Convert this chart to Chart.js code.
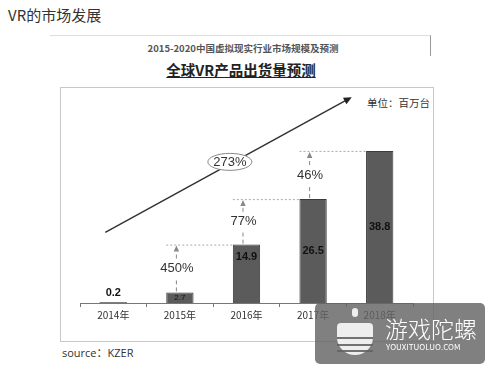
<!DOCTYPE html>
<html>
<head>
<meta charset="utf-8">
<script src="https://cdn.jsdelivr.net/npm/chart.js@4"></script>
<style>
  body { margin: 0; background: #fff; width: 500px; height: 375px; position: relative; overflow: hidden;
         font-family: "Noto Sans CJK SC", "Liberation Sans", sans-serif; color: #333; }
  .abs { position: absolute; }
  #head { left: 8px; top: 4px; font-size: 15px; color: #333; }
  #frame { left: 50px; top: 35px; width: 380px; height: 20px; border-top: 1px solid #ddd; border-right: 1px solid #999; }
  #sub { left: 50px; top: 42px; width: 386px; text-align: center; font-size: 9.5px; font-weight: bold; color: #555; line-height: 12px; }
  #title { left: 50px; top: 60px; width: 382px; text-align: center; font-size: 14.5px; font-weight: bold; color: #222;
           text-decoration: underline; line-height: 20px; }
  #box { left: 60px; top: 87px; width: 372px; height: 253px; border: 1px solid #c8c8c8; }
  #unit { left: 360px; top: 95px; width: 70px; text-align: right; font-size: 10.5px; color: #333; }
  #source { left: 62px; top: 344px; font-size: 11px; color: #333; font-family: "Open Sans", "Noto Sans CJK SC", sans-serif; }
  #wm { left: 315px; top: 303px; width: 170px; height: 61px; border-radius: 5px; background: rgba(100,100,100,0.82); z-index: 5; }
  #wm .cn { position: absolute; left: 70px; top: 8px; font-size: 23px; color: #fff; font-weight: 300; }
  #wm .en { position: absolute; left: 71px; top: 38px; font-size: 8px; color: #fff; }
  #wm .logo { position: absolute; left: 22px; top: 20px; width: 36px; height: 32px; border-radius: 4px 4px 18px 18px; background: #eee; }
  #wm .stripe { position: absolute; left: 22px; width: 36px; height: 2px; background: rgba(100,100,100,0.9); }
  #wm .pin { position: absolute; left: 37px; top: 5px; width: 6px; height: 9px; border-radius: 3px; background: #eee; }
  canvas { position: absolute; left: 60px; top: 87px; }
</style>
</head>
<body>
<div class="abs" id="head">VR的市场发展</div>
<div class="abs" id="frame"></div>
<div class="abs" id="sub">2015-2020中国虚拟现实行业市场规模及预测</div>
<div class="abs" id="title">全球VR产品出货量预测</div>
<div class="abs" id="box"></div>
<div class="abs" id="unit">单位：百万台</div>
<canvas id="chart" width="373" height="254"></canvas>
<div class="abs" id="source">source：KZER</div>
<div class="abs" id="wm">
  <div class="pin"></div>
  <div class="logo"></div>
  <div class="stripe" style="top:34px"></div>
  <div class="stripe" style="top:41px"></div>
  <div class="stripe" style="top:47px"></div>
  <div class="cn">游戏陀螺</div>
  <div class="en">YOUXITUOLUO.COM</div>
</div>
<script>
const years = ['2014年', '2015年', '2016年', '2017年', '2018年'];
const shipments = [0.2, 2.7, 14.9, 26.5, 38.8];
// year-on-year growth, from bar growthFrom[i] to the next one
const growthFrom = [1, 2, 3];
const growthLabels = ['450%', '77%', '46%'];
const cagrLabel = '273%';

// how each value label sits on its bar
const labelStyle = [
  { pos: 'above', font: 'bold 11px "Liberation Sans", Arial' },
  { pos: 'center', font: '8px "Liberation Sans", Arial' },
  { pos: 'top', font: 'bold 11px "Liberation Sans", Arial' },
  { pos: 'center', font: 'bold 11px "Liberation Sans", Arial' },
  { pos: 'center', font: 'bold 11px "Liberation Sans", Arial' }
];

function arrowHead(ctx, x, y, angle, size) {
  ctx.save();
  ctx.translate(x, y);
  ctx.rotate(angle);
  ctx.beginPath();
  ctx.moveTo(0, 0);
  ctx.lineTo(-size, -size / 2.2);
  ctx.lineTo(-size, size / 2.2);
  ctx.closePath();
  ctx.fill();
  ctx.restore();
}

const annotations = {
  id: 'annotations',
  afterDatasetsDraw(chart) {
    const ctx = chart.ctx;
    const x = chart.scales.x;
    const y = chart.scales.y;
    const bars = chart.getDatasetMeta(0).data;

    // value labels
    ctx.save();
    ctx.fillStyle = '#111';
    ctx.textAlign = 'center';
    ctx.textBaseline = 'middle';
    bars.forEach((bar, i) => {
      const st = labelStyle[i];
      ctx.font = st.font;
      let ly = (bar.y + bar.base) / 2;
      if (st.pos === 'above') ly = bar.y - 9;
      if (st.pos === 'top') ly = bar.y + 12;
      ctx.fillText(String(shipments[i]), bar.x, ly);
    });
    ctx.restore();

    // growth arrows
    ctx.save();
    growthFrom.forEach((i, k) => {
      const a = bars[i];
      const b = bars[i + 1];
      const w = a.width;
      ctx.strokeStyle = '#aaa';
      ctx.lineWidth = 1;
      ctx.setLineDash([2, 2]);
      ctx.beginPath();
      ctx.moveTo(a.x - w / 2, b.y + 0.5);
      ctx.lineTo(b.x - b.width / 2, b.y + 0.5);
      ctx.stroke();
      const mid = (a.y + b.y) / 2;
      ctx.strokeStyle = '#888';
      ctx.setLineDash([4, 3]);
      ctx.beginPath();
      ctx.moveTo(a.x - 3.5, a.y - 1);
      ctx.lineTo(a.x - 3.5, mid + 10);
      ctx.moveTo(a.x - 3.5, mid - 10);
      ctx.lineTo(a.x - 3.5, b.y + 7);
      ctx.stroke();
      ctx.setLineDash([]);
      ctx.fillStyle = '#888';
      arrowHead(ctx, a.x - 3.5, b.y + 1, -Math.PI / 2, 6);
      ctx.fillStyle = '#333';
      ctx.font = '13px "Liberation Sans", Arial';
      ctx.textAlign = 'center';
      ctx.textBaseline = 'middle';
      ctx.fillText(growthLabels[k], a.x - 3, mid);
    });
    ctx.restore();

    // overall trend arrow
    const step = x.getPixelForValue(1) - x.getPixelForValue(0);
    const sx = x.getPixelForValue(0) - 0.12 * step, sy = y.getPixelForValue(18);
    const ex = x.getPixelForValue(0) + 3.58 * step, ey = y.getPixelForValue(52.5);
    ctx.save();
    ctx.strokeStyle = '#333';
    ctx.fillStyle = '#222';
    ctx.lineWidth = 1.5;
    ctx.beginPath();
    ctx.moveTo(sx, sy);
    ctx.lineTo(ex - 4, ey + 2.2);
    ctx.stroke();
    arrowHead(ctx, ex, ey, Math.atan2(ey - sy, ex - sx), 8);
    // CAGR bubble
    const cx = x.getPixelForValue(0) + 1.75 * step;
    const cy = y.getPixelForValue(36);
    ctx.beginPath();
    ctx.ellipse(cx, cy, 22, 8.5, 0, 0, Math.PI * 2);
    ctx.fillStyle = '#fff';
    ctx.fill();
    ctx.lineWidth = 1;
    ctx.strokeStyle = '#888';
    ctx.stroke();
    ctx.fillStyle = '#333';
    ctx.font = '13px "Liberation Sans", Arial';
    ctx.textAlign = 'center';
    ctx.textBaseline = 'middle';
    ctx.fillText(cagrLabel, cx, cy + 0.5);
    ctx.restore();
  }
};

new Chart(document.getElementById('chart'), {
  type: 'bar',
  data: {
    labels: years,
    datasets: [{
      data: shipments,
      backgroundColor: '#5b5b5b',
      borderColor: '#3a3a3a',
      borderWidth: [0, 1, 1, 1, 1],
      categoryPercentage: 1,
      barPercentage: 0.41
    }]
  },
  options: {
    responsive: false,
    devicePixelRatio: 1,
    animation: false,
    layout: { padding: { left: 20, right: 20, top: 20, bottom: 18 } },
    plugins: { legend: { display: false }, tooltip: { enabled: false } },
    scales: {
      x: {
        grid: { drawOnChartArea: false, offset: true, tickLength: 4, color: '#777' },
        border: { color: '#777' },
        ticks: { color: '#333', font: { size: 10, family: '"Noto Sans CJK SC"' }, padding: 2 }
      },
      y: { display: false, min: 0, max: 50 }
    }
  },
  plugins: [annotations]
});
</script>
</body>
</html>
